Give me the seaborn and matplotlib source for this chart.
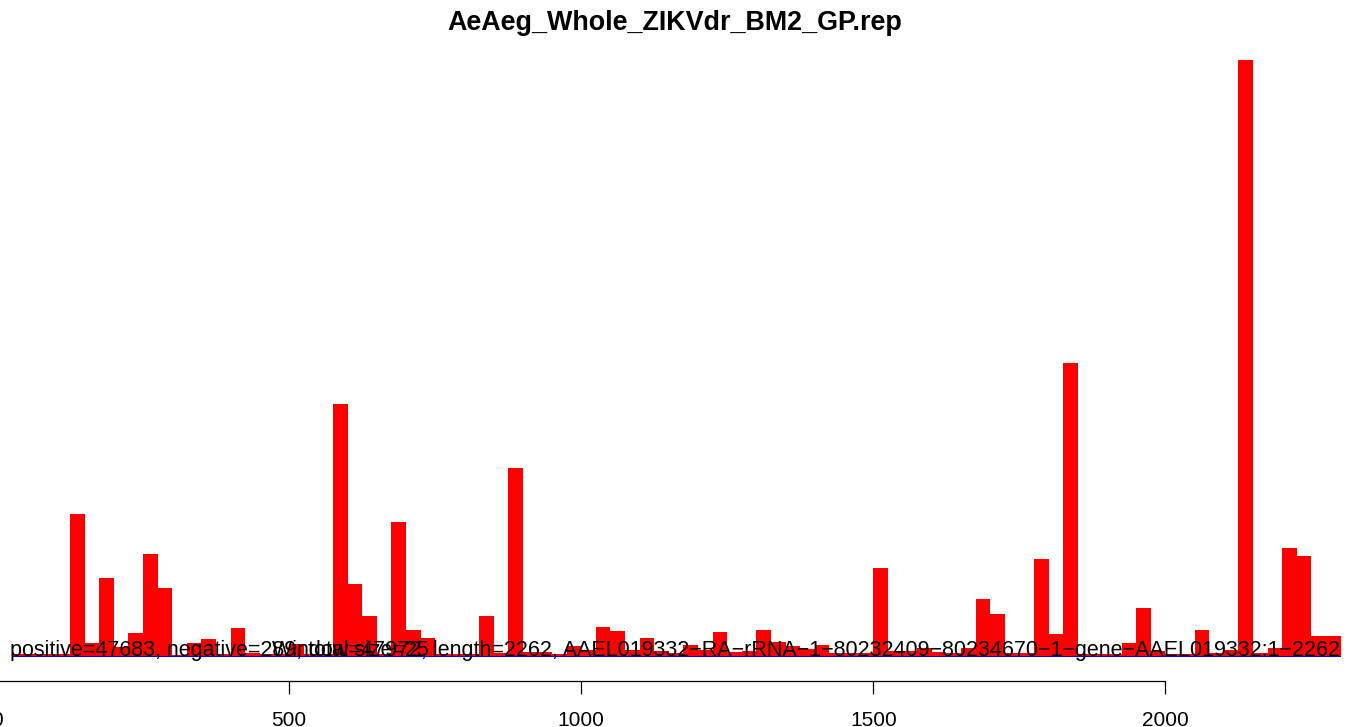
import matplotlib
matplotlib.use("Agg")
import matplotlib.pyplot as plt
import matplotlib.transforms as mtransforms
import seaborn as sns
import pandas as pd

# ---- data ----
title = "AeAeg_Whole_ZIKVdr_BM2_GP.rep"
bin_width = 25
bin_starts = list(range(0, 2300, bin_width))  # 92 windows of 25 nt
positive = [0, 2, 2, 2, 2, 142, 13, 78, 9, 23,
            102, 68, 1, 13, 17, 2, 28, 3, 2, 2,
            12, 2, 2, 252, 72, 40, 2, 134, 26, 18,
            2, 2, 2, 40, 3, 188, 4, 4, 2, 10,
            6, 29, 25, 6, 18, 5, 3, 11, 6, 24,
            4, 5, 26, 14, 10, 7, 11, 3, 3, 3,
            88, 5, 5, 8, 4, 3, 8, 57, 42, 3,
            3, 97, 22, 293, 2, 2, 2, 13, 48, 5,
            2, 2, 26, 3, 6, 596, 3, 8, 108, 100,
            20, 20]
negative = [0] + [-1] * 91
tick_values = [0, 500, 1000, 1500, 2000]
tick_labels = ["0", "500", "1000", "1500", "2000"]
info_text = ("positive=47683, negative=289, total=47972, length=2262, "
             "AAEL019332\u2212RA\u2212rRNA\u22121\u221280232409\u221280234670\u22121\u2212gene\u2212AAEL019332:1\u22122262")
window_text = "Window size=25"

df = pd.DataFrame({
    "pos": [s + bin_width / 2 for s in bin_starts],
    "positive": positive,
    "negative": negative,
})

sns.set_style("white")
plt.rcParams["font.family"] = ["Liberation Sans", "DejaVu Sans"]
plt.rcParams["text.color"] = "black"

W, H = 1349, 727
fig = plt.figure(figsize=(W / 100, H / 100), dpi=100)
# axes: bottom spine at y=681px, top at 50px
ax = fig.add_axes([0, (H - 681) / H, 1, (681 - 50) / H])

sns.barplot(data=df, x="pos", y="positive", native_scale=True, width=1,
            color="#FF0000", saturation=1, errorbar=None, linewidth=0, ax=ax)
sns.barplot(data=df, x="pos", y="negative", native_scale=True, width=1,
            color="#0000FF", saturation=1, errorbar=None, linewidth=0, ax=ax)

ax.set_xlim((0 + 3) / 0.5842, (W + 3) / 0.5842)
ax.set_ylim(-25, 606)

for s in ["top", "right", "left"]:
    ax.spines[s].set_visible(False)
ax.spines["bottom"].set_bounds(0, 2000)
ax.spines["bottom"].set_linewidth(0.9)
ax.spines["bottom"].set_color("black")
ax.set_xticks(tick_values[1:])
ax.set_xticklabels(tick_labels[1:])
ax.tick_params(axis="x", bottom=True, direction="out", length=9.5, width=0.9,
               pad=12, labelsize=15, colors="black")
ax.set_yticks([])
ax.set_xlabel("")
ax.set_ylabel("")

# partially visible "0" label at the left edge
fig.text(-3 / W, 1 - 720 / H, tick_labels[0], ha="center", va="center",
         fontsize=15, color="black")

blend = mtransforms.blended_transform_factory(ax.transAxes, ax.transData)
ax.text(0.5, 0, info_text, transform=blend,
        ha="center", va="baseline", fontsize=15.5, color="black", zorder=10)
ax.text(272 / W, 0, window_text, transform=blend,
        ha="left", va="baseline", fontsize=15.5, color="black", zorder=10)

fig.text(0.5, 1 - 23 / H, title, ha="center", va="center", fontsize=19.4,
         fontweight="bold", color="black")

fig.savefig("out.png", dpi=100)
